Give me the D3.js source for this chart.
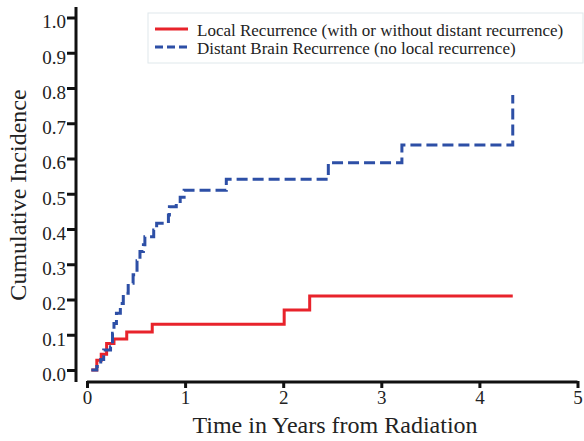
<!DOCTYPE html>
<html>
<head>
<meta charset="utf-8">
<script src="https://cdn.jsdelivr.net/npm/d3@7"></script>
<style>
  body { margin: 0; background: #fff; }
  svg text { font-family: 'Liberation Serif', 'Times New Roman', 'DejaVu Serif', serif !important; }
</style>
</head>
<body>
<svg id="chart" width="584" height="441"></svg>
<script>
// step points: [years, cumulative incidence after the step]
var localSteps = [[0.044, 0], [0.10, 0.028], [0.145, 0.045], [0.20, 0.075], [0.275, 0.088],
  [0.405, 0.108], [0.665, 0.13], [2.01, 0.17], [2.27, 0.21], [4.34, 0.21]];
var distantSteps = [[0.044, 0], [0.10, 0.01], [0.14, 0.03], [0.17, 0.057], [0.24, 0.066],
  [0.26, 0.104], [0.275, 0.132], [0.30, 0.161], [0.34, 0.189], [0.37, 0.218], [0.42, 0.246],
  [0.47, 0.27], [0.51, 0.31], [0.54, 0.336], [0.575, 0.355], [0.59, 0.378], [0.68, 0.397],
  [0.71, 0.416], [0.83, 0.44], [0.84, 0.463], [0.91, 0.473], [0.95, 0.49], [0.99, 0.51],
  [1.42, 0.541], [2.46, 0.588], [3.21, 0.638], [4.34, 0.78]];
var xTicks = [0, 1, 2, 3, 4, 5];
var yTicks = [0, 0.1, 0.2, 0.3, 0.4, 0.5, 0.6, 0.7, 0.8, 0.9, 1.0];
var legendLabels = ["Local Recurrence (with or without distant recurrence)",
  "Distant Brain Recurrence (no local recurrence)"];

var svg = d3.select('#chart');
var x = d3.scaleLinear().domain([0, 5]).range([87, 577.5]);
var y = d3.scaleLinear().domain([0, 1]).range([370, 17.5]);

// y axis
var yAxis = svg.append('g').attr('transform', 'translate(76,0)')
  .call(d3.axisLeft(y).tickValues(yTicks).tickSize(9).tickSizeOuter(0).tickFormat(d3.format('.1f')));
yAxis.select('.domain').remove();
yAxis.append('line').attr('x1', 0).attr('x2', 0).attr('y1', 7).attr('y2', 382)
  .attr('stroke', '#111').attr('stroke-width', 3);
yAxis.selectAll('.tick line').attr('stroke', '#111').attr('stroke-width', 3);
yAxis.selectAll('.tick text').attr('font-size', 19).attr('fill', '#222')
  .attr('x', -10).attr('dy', '0.55em');

// x axis
var xAxis = svg.append('g').attr('transform', 'translate(0,382)')
  .call(d3.axisBottom(x).tickValues(xTicks).tickSize(6).tickSizeOuter(0).tickFormat(d3.format('d')));
xAxis.select('.domain').attr('stroke', '#111').attr('stroke-width', 3)
  .attr('d', 'M' + x(0) + ',0H' + x(5));
xAxis.selectAll('.tick line').attr('stroke', '#111').attr('stroke-width', 3).attr('y1', -1);
xAxis.selectAll('.tick text').attr('font-size', 19).attr('fill', '#222').attr('y', 9);

// axis titles
svg.append('text').attr('transform', 'translate(26,195) rotate(-90)')
  .attr('text-anchor', 'middle').attr('font-size', 24).attr('fill', '#222')
  .text('Cumulative Incidence');
svg.append('text').attr('x', 335).attr('y', 433)
  .attr('text-anchor', 'middle').attr('font-size', 24).attr('fill', '#222')
  .text('Time in Years from Radiation');

// curves
var line = d3.line().curve(d3.curveStepAfter)
  .x(function (d) { return x(d[0]); })
  .y(function (d) { return y(d[1]); });

svg.append('path').datum(localSteps).attr('d', line)
  .attr('fill', 'none').attr('stroke', '#e8232b').attr('stroke-width', 3);
svg.append('path').datum(distantSteps).attr('d', line)
  .attr('fill', 'none').attr('stroke', '#2d4fa6').attr('stroke-width', 3)
  .attr('stroke-dasharray', '11,5');

// legend
var legend = svg.append('g');
legend.append('rect').attr('x', 148).attr('y', 13).attr('width', 435).attr('height', 50)
  .attr('fill', '#fff').attr('stroke', '#dfe8eb').attr('stroke-width', 1);
legend.append('line').attr('x1', 155).attr('x2', 188).attr('y1', 29).attr('y2', 29)
  .attr('stroke', '#e8232b').attr('stroke-width', 3);
legend.append('line').attr('x1', 155).attr('x2', 188).attr('y1', 47).attr('y2', 47)
  .attr('stroke', '#2d4fa6').attr('stroke-width', 3).attr('stroke-dasharray', '8,4');
legend.selectAll('text.lg').data(legendLabels).enter().append('text')
  .attr('class', 'lg').attr('x', 197)
  .attr('y', function (d, i) { return 36 + i * 17.5; })
  .attr('font-size', 17).attr('fill', '#222')
  .text(function (d) { return d; });
</script>
</body>
</html>
